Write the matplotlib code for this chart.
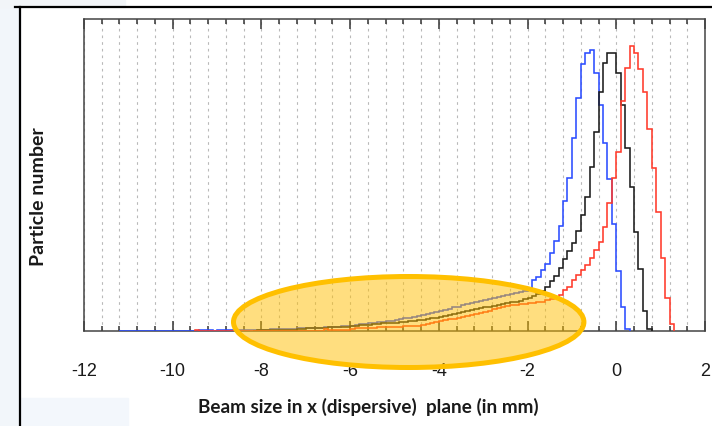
import matplotlib
matplotlib.use("Agg")
import numpy as np
import matplotlib.pyplot as plt
from matplotlib.patches import Ellipse, Rectangle
from matplotlib.lines import Line2D
from matplotlib.ticker import MultipleLocator

plt.rcParams["axes.unicode_minus"] = False

# histogram bins are 0.1 mm wide; each series is given by its first bin edge
BIN_WIDTH = 0.1

blue_start = -11.2
blue_counts = (
    [0] * 18
    + [1, 1, 1, 0, 1, 1, 1, 1]
    + [1, 1, 1, 1, 1, 1, 1, 1, 2, 2, 2, 2, 2, 2]
    + [3, 3, 3, 3, 3, 3, 4, 4, 4, 4, 5, 5, 5, 6, 7, 7, 8, 8, 9, 9, 10, 10]
    + [11, 12, 13, 13, 14, 15, 16, 17, 18, 19, 20, 21, 22, 24, 24, 26, 27, 28, 29, 30]
    + [31, 32, 33, 34, 35, 36, 37, 38, 39, 40, 43, 51, 54, 61, 67, 78, 90, 105, 130, 153]
    + [193, 233, 267, 278, 281, 258, 226, 188, 152, 107, 60, 24, 2]
)

black_start = -8.2
black_counts = (
    [0, 1, 1, 1, 1, 1, 1, 1, 1, 1, 2, 2, 3, 3, 3, 3, 3, 4, 4, 4, 4, 4]
    + [5, 5, 6, 6, 6, 7, 7, 8, 8, 8, 8, 9, 9, 10, 10, 11, 11, 12, 13, 13]
    + [14, 15, 16, 17, 18, 19, 20, 21, 22, 23, 24, 24, 25, 26, 27, 28, 29, 29, 30, 32]
    + [33, 35, 37, 40, 44, 50, 55, 63, 72, 80, 88, 100, 116, 134, 164, 199, 239, 268, 278, 278]
    + [258, 226, 183, 144, 99, 62, 20, 2]
)

red_start = -9.5
red_counts = (
    [1] + [0] * 28
    + [2, 1, 1, 1, 1, 1, 2, 3, 3, 3, 3, 3, 4, 4, 4, 4, 4, 4, 5, 5, 5, 5]
    + [6, 7, 8, 9, 10, 11, 12, 12, 13, 14, 15, 16, 17, 18, 19, 20, 22, 23, 24, 25]
    + [26, 26, 27, 27, 28, 28, 29, 29, 31, 32, 34, 36, 41, 44, 51, 56, 61, 66, 73, 81]
    + [89, 104, 128, 153, 179, 230, 263, 285, 278, 262, 239, 202, 163, 119, 73, 33, 7]
)

series = [
    (blue_start, blue_counts, "#2b4cff"),
    (black_start, black_counts, "#1c1c1c"),
    (red_start, red_counts, "#ff3a2a"),
]

fig = plt.figure(figsize=(7.12, 4.26), dpi=100)

# light slide background around the frame
fig.patches.append(Rectangle((0, 0), 20 / 712, 1, transform=fig.transFigure,
                             color="#f2f6fa", zorder=-2))
fig.patches.append(Rectangle((0, 1 - 7 / 426), 125 / 712, 7 / 426,
                             transform=fig.transFigure, color="#f2f5f8", zorder=-2))
fig.patches.append(Rectangle((20 / 712, 0), 108 / 712, 28 / 426,
                             transform=fig.transFigure, color="#f3f7fc", zorder=-2))
fig.add_artist(Line2D([20 / 712, 20 / 712], [0, 1 - 7 / 426], color="black", lw=1.6))
fig.add_artist(Line2D([15 / 712, 1], [1 - 7 / 426, 1 - 7 / 426], color="black", lw=1.6))

ax = fig.add_axes([84 / 712, 1 - 331 / 426, 621 / 712, 312 / 426])

for start, counts, color in series:
    counts = np.asarray(counts, dtype=float)
    edges = start + BIN_WIDTH * np.arange(len(counts) + 1)
    ax.stairs(counts, edges, baseline=0, color=color, lw=1.15, zorder=3)

ax.set_xlim(-12, 2)
ax.set_ylim(0, 312)

ax.xaxis.set_major_locator(MultipleLocator(2))
ax.xaxis.set_minor_locator(MultipleLocator(0.4))
ax.set_yticks([])
ax.tick_params(axis="x", which="both", direction="in", top=True, bottom=True,
               color="#333333", width=1.1)
ax.tick_params(axis="x", which="major", length=7.2, pad=23, labelsize=13,
               labelcolor="#1a1a1a")
ax.tick_params(axis="x", which="minor", length=3.6)
for lbl in ax.get_xticklabels():
    lbl.set_fontfamily("Liberation Sans")

ax.grid(True, axis="x", which="both", color="#b9b9b9", lw=0.8,
        linestyle=(0, (2.4, 3.6)))
ax.set_axisbelow(True)
for sp in ax.spines.values():
    sp.set_color("#444444")
    sp.set_linewidth(1.1)

# highlight of the low-energy tail
tail = Ellipse((-4.68, 9), 7.9, 91, transform=ax.transData,
               facecolor=(1.0, 0.75, 0.0, 0.5), edgecolor="#FFC000",
               lw=3.6, clip_on=False, zorder=6)
ax.add_patch(tail)

fig.text(368 / 712, 1 - 407 / 426, "Beam size in x (dispersive)  plane (in mm)",
         ha="center", va="center", fontsize=13.6, fontweight="bold",
         family="Lato", color="#1a1a1a")
fig.text(38.5 / 712, 1 - 197 / 426, "Particle number", rotation=90,
         ha="center", va="center", fontsize=14, fontweight="bold",
         family="Lato", color="#1a1a1a")

fig.savefig("out.png", dpi=100)
